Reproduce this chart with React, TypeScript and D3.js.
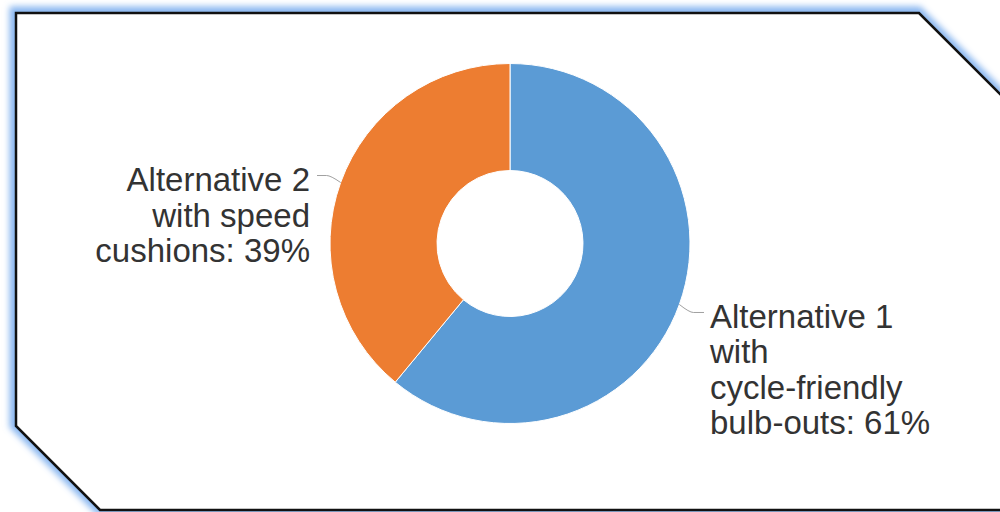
import React from "react";
import * as d3 from "d3";

const categories = [
  "Alternative 1 with cycle-friendly bulb-outs",
  "Alternative 2 with speed cushions",
];
const shares = [61, 39];
const colors = ["#5b9bd5", "#ed7d31"];
const labelLines = [
  ["Alternative 1", "with", "cycle-friendly", "bulb-outs: 61%"],
  ["Alternative 2", "with speed", "cushions: 39%"],
];

const W = 1000;
const H = 512;
const cx = 510;
const cy = 243.5;
const outerR = 180;
const innerR = 73;
const fontSize = 33;
const lineH = 35.5;

export default function App() {
  const data = categories.map((c, i) => ({ name: c, value: shares[i], color: colors[i], lines: labelLines[i] }));
  const pie = d3.pie<any>().value((d) => d.value).sort(null);
  const arcs = pie(data);
  const arc = d3.arc<any>().innerRadius(innerR).outerRadius(outerR);

  const border = "M16,13 L919,13 L1004,98 L1004,510 L100,510 L16,426 Z";

  return (
    <svg
      width={W}
      height={H}
      style={{ position: "absolute", left: 0, top: 0, display: "block" }}
      fontFamily="'Liberation Sans', Arial, sans-serif"
    >
      <defs>
        <filter id="glow" x="-10%" y="-10%" width="120%" height="120%">
          <feGaussianBlur stdDeviation="3" />
        </filter>
      </defs>
      <rect x={0} y={0} width={W} height={H} fill="#ffffff" />
      <path d={border} fill="none" stroke="#88b6f0" strokeWidth={11} filter="url(#glow)" transform="translate(-1,-1)" />
      <path d={border} fill="#ffffff" stroke="#111111" strokeWidth={2.5} strokeLinejoin="miter" />
      <g transform={`translate(${cx},${cy})`}>
        {arcs.map((a, i) => (
          <path key={i} d={arc(a) || ""} fill={a.data.color} stroke="#ffffff" strokeWidth={1} />
        ))}
        {arcs.map((a, i) => {
          const mid = (a.startAngle + a.endAngle) / 2;
          const sx = Math.sin(mid) * outerR;
          const sy = -Math.cos(mid) * outerR;
          const right = sx > 0;
          const ex = right ? outerR + 14 : -(outerR + 13);
          const ey = sy + (right ? 8 : -7);
          const mx = sx + (right ? 10 : -10);
          const my = sy + (right ? 4 : -3);
          const tx = right ? ex + 6 : ex - 7;
          return (
            <g key={"l" + i}>
              <path
                d={`M${sx},${sy} Q${mx},${my + (right ? 4 : -4)} ${mx + (right ? 4 : -4)},${ey} L${ex},${ey}`}
                fill="none"
                stroke="#a0a0a0"
                strokeWidth={1}
              />
              <text
                x={tx}
                y={ey + 15.5}
                fontSize={fontSize}
                fill="#333333"
                textAnchor={right ? "start" : "end"}
              >
                {a.data.lines.map((ln: string, j: number) => (
                  <tspan key={j} x={tx} y={ey + 15.5 + j * lineH}>
                    {ln}
                  </tspan>
                ))}
              </text>
            </g>
          );
        })}
      </g>
    </svg>
  );
}
